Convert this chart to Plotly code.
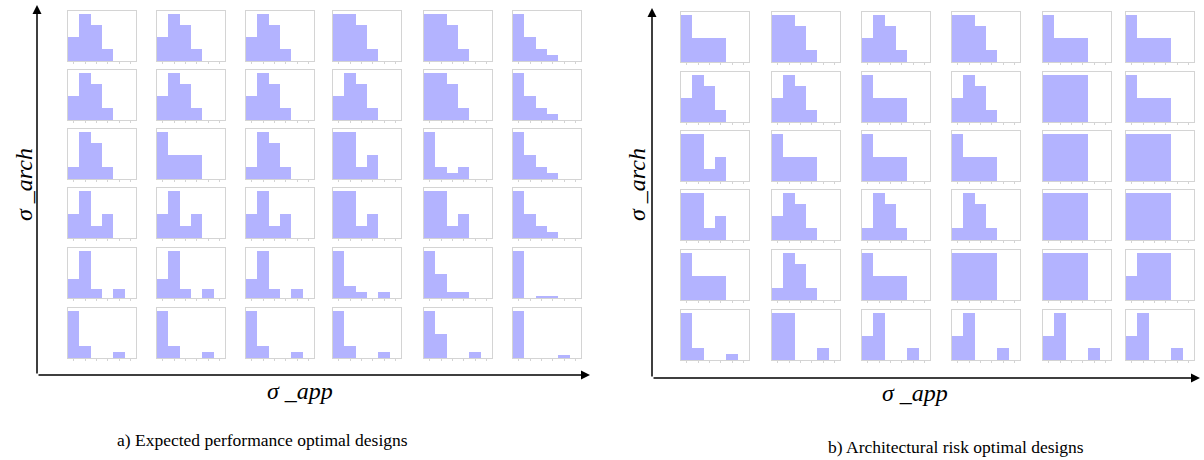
import plotly.graph_objects as go

W, H = 1204, 460

# Histogram bins (6 equal bins per small plot)
bins = [0.5, 1.5, 2.5, 3.5, 4.5, 5.5]

# Counts per bin, rows listed from top (high sigma_arch) to bottom,
# columns from left (low sigma_app) to right
perf_counts = [
    [[2, 4, 3, 1, 0, 0], [2, 4, 3, 1, 0, 0], [2, 4, 3, 1, 0, 0], [4, 4, 3, 1, 0, 0], [4, 4, 3, 1, 0, 0], [8, 4, 2, 1, 0, 0]],
    [[2, 4, 3, 1, 0, 0], [2, 4, 3, 1, 0, 0], [2, 4, 3, 1, 0, 0], [2, 4, 3, 1, 0, 0], [4, 4, 3, 1, 0, 0], [8, 4, 2, 1, 0, 0]],
    [[1, 4, 3, 1, 0, 0], [2, 1, 1, 1, 0, 0], [1, 4, 3, 1, 0, 0], [4, 4, 1, 2, 0, 0], [8, 2, 1, 2, 0, 0], [8, 4, 2, 1, 0, 0]],
    [[2, 4, 1, 2, 0, 0], [2, 4, 1, 2, 0, 0], [2, 4, 1, 2, 0, 0], [4, 4, 1, 2, 0, 0], [4, 4, 1, 2, 0, 0], [8, 4, 2, 1, 0, 0]],
    [[2, 5, 1, 0, 1, 0], [2, 5, 1, 0, 1, 0], [2, 5, 1, 0, 1, 0], [8, 2, 1, 0, 1, 0], [8, 4, 1, 1, 0, 0], [26, 0, 1, 1, 0, 0]],
    [[8, 2, 0, 0, 1, 0], [8, 2, 0, 0, 1, 0], [8, 2, 0, 0, 1, 0], [8, 2, 0, 0, 1, 0], [8, 4, 0, 0, 1, 0], [17, 0, 0, 0, 1, 0]],
]

risk_counts = [
    [[2, 1, 1, 1, 0, 0], [4, 4, 3, 1, 0, 0], [2, 4, 3, 1, 0, 0], [4, 4, 3, 1, 0, 0], [2, 1, 1, 1, 0, 0], [2, 1, 1, 1, 0, 0]],
    [[2, 4, 3, 1, 0, 0], [2, 4, 3, 1, 0, 0], [2, 1, 1, 1, 0, 0], [2, 4, 3, 1, 0, 0], [1, 1, 1, 1, 0, 0], [2, 1, 1, 1, 0, 0]],
    [[4, 4, 1, 2, 0, 0], [2, 1, 1, 1, 0, 0], [2, 1, 1, 1, 0, 0], [2, 1, 1, 1, 0, 0], [1, 1, 1, 1, 0, 0], [1, 1, 1, 1, 0, 0]],
    [[4, 4, 1, 2, 0, 0], [2, 4, 3, 1, 0, 0], [1, 4, 3, 1, 0, 0], [1, 4, 3, 1, 0, 0], [1, 1, 1, 1, 0, 0], [1, 1, 1, 1, 0, 0]],
    [[2, 1, 1, 1, 0, 0], [1, 4, 3, 1, 0, 0], [2, 1, 1, 1, 0, 0], [1, 1, 1, 1, 0, 0], [1, 1, 1, 1, 0, 0], [1, 2, 2, 2, 0, 0]],
    [[8, 2, 0, 0, 1, 0], [4, 4, 0, 0, 1, 0], [2, 4, 0, 0, 1, 0], [2, 4, 0, 0, 1, 0], [2, 4, 0, 0, 1, 0], [2, 4, 0, 0, 1, 0]],
]

captions = ["a) Expected performance optimal designs", "b) Architectural risk optimal designs"]
x_label = "σ _app"
y_label = "σ _arch"

# Grid placement of the small plots (pixels)
panels = [
    dict(counts=perf_counts,
         col_x=[68, 157, 246, 333, 424, 513],
         row_y=[11, 70, 129, 188, 248, 308]),
    dict(counts=risk_counts,
         col_x=[681, 772, 862, 952, 1043, 1126],
         row_y=[12, 72, 131, 190, 250, 310]),
]
CELL_W, CELL_H = 68, 50

BAR_COLOR = "rgb(179,179,255)"
FRAME = "#d4d4d4"

fig = go.Figure()
layout = {}
k = 0
for p in panels:
    for r, row in enumerate(p["counts"]):
        for c, counts in enumerate(row):
            k += 1
            sfx = "" if k == 1 else str(k)
            x0 = p["col_x"][c]
            y0 = p["row_y"][r]
            fig.add_trace(go.Bar(
                x=bins, y=counts, width=1.0,
                marker=dict(color=BAR_COLOR, line=dict(width=0)),
                xaxis="x" + sfx, yaxis="y" + sfx,
                showlegend=False, hoverinfo="skip",
            ))
            layout["xaxis" + sfx] = dict(
                domain=[x0 / W, (x0 + CELL_W) / W], range=[0, 6],
                anchor="y" + sfx, showgrid=False, zeroline=False,
                showline=True, linecolor=FRAME, linewidth=1, mirror=True,
                tickvals=bins, ticks="outside", ticklen=2, tickcolor=FRAME,
                showticklabels=False, fixedrange=True,
            )
            layout["yaxis" + sfx] = dict(
                domain=[1 - (y0 + CELL_H) / H, 1 - y0 / H],
                range=[0, max(counts) * 1.055],
                anchor="x" + sfx, showgrid=False, zeroline=False,
                showline=True, linecolor=FRAME, linewidth=1, mirror=True,
                ticks="", showticklabels=False, fixedrange=True,
            )

fig.update_layout(**layout)


def px(x):
    return x / W


def py(y):
    return 1 - y / H


annotations = []
# Axis arrows for both panels: (corner x, corner y, top y, right x)
arrows = [(37, 375, 5, 590), (652, 378, 8, 1200)]
for cx, cy, ty, rx in arrows:
    annotations.append(dict(x=px(cx), y=py(ty), xref="paper", yref="paper",
                            ax=0, ay=cy - ty, axref="pixel", ayref="pixel",
                            showarrow=True, arrowhead=2, arrowsize=1.2,
                            arrowwidth=1.5, arrowcolor="black", text=""))
    annotations.append(dict(x=px(rx), y=py(cy), xref="paper", yref="paper",
                            ax=cx - rx, ay=0, axref="pixel", ayref="pixel",
                            showarrow=True, arrowhead=2, arrowsize=1.2,
                            arrowwidth=1.5, arrowcolor="black", text=""))

serif = "Liberation Serif, Times New Roman, serif"
label_font = dict(family=serif, size=24, color="black")
for (lx, ly), (bx, by) in [((24, 185), (300, 391)), ((637, 185), (915, 393))]:
    annotations.append(dict(x=px(lx), y=py(ly), xref="paper", yref="paper",
                            text="<i>" + y_label + "</i>", textangle=-90,
                            showarrow=False, font=label_font,
                            xanchor="center", yanchor="middle"))
    annotations.append(dict(x=px(bx), y=py(by), xref="paper", yref="paper",
                            text="<i>" + x_label + "</i>",
                            showarrow=False, font=label_font,
                            xanchor="center", yanchor="middle"))

for text, (tx, ty) in zip(captions, [(262, 440), (956, 447)]):
    annotations.append(dict(x=px(tx), y=py(ty), xref="paper", yref="paper",
                            text=text, showarrow=False,
                            font=dict(family=serif, size=17.5, color="black"),
                            xanchor="center", yanchor="middle"))

fig.update_layout(
    width=W, height=H,
    margin=dict(l=0, r=0, t=0, b=0),
    paper_bgcolor="white", plot_bgcolor="white",
    bargap=0, annotations=annotations,
)

fig.write_html("out.html")
